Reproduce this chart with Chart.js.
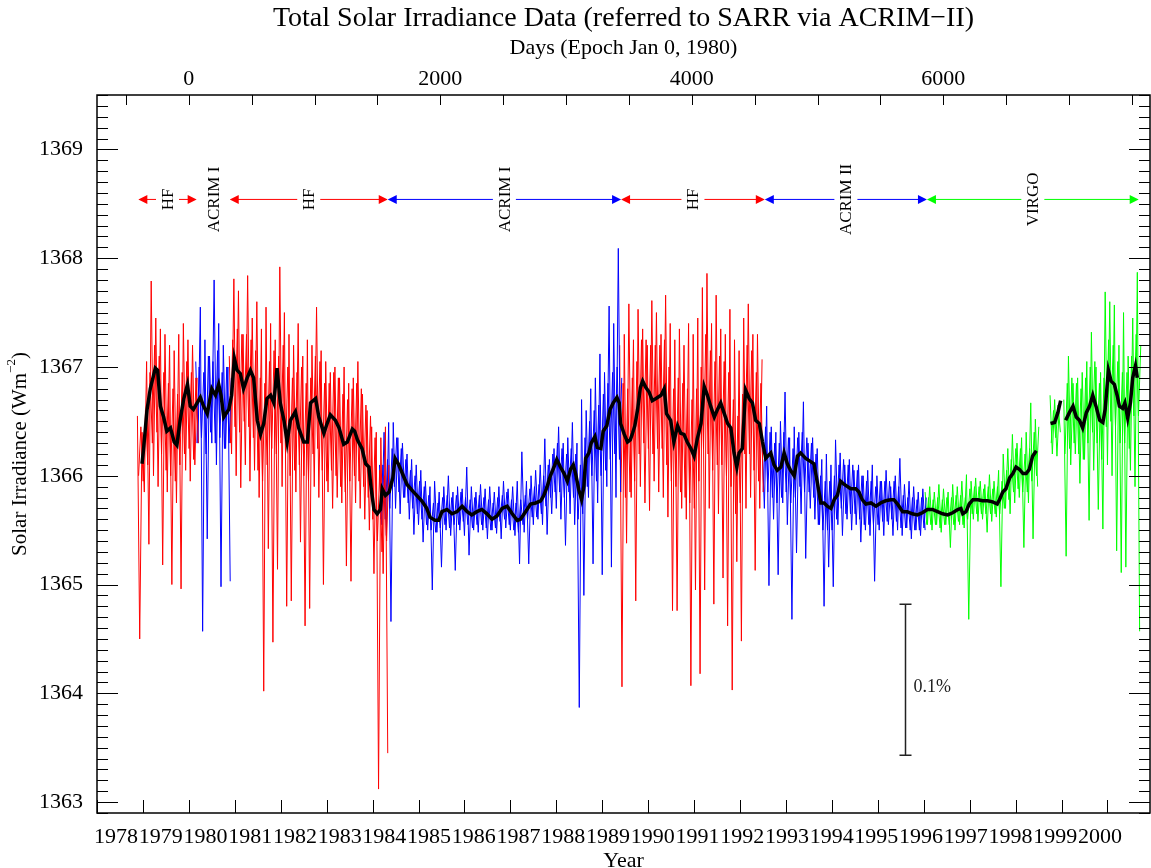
<!DOCTYPE html>
<html>
<head>
<meta charset="utf-8">
<title>Total Solar Irradiance Data</title>
<script src="https://cdn.jsdelivr.net/npm/chart.js@4.4.1/dist/chart.umd.min.js"></script>
<style>
  html, body { margin: 0; padding: 0; background: #fff; }
  #wrap { width: 1151px; height: 868px; }
</style>
</head>
<body>
<div id="wrap"><canvas id="tsiChart" width="1151" height="868"></canvas></div>
<script>
const SERIF = "'Liberation Serif', 'Times New Roman', serif"
const TITLE = 'Total Solar Irradiance Data (referred to SARR via ACRIM\u2212II)'

// daily irradiance, every 0.05 yr as alternating upper / lower excursions
// (*Core arrays: the dense inner band, read half a step later)
const SAMPLE_STEP = 0.05

const hf1Start = 1978.88
const hf1 = [
  1366.55, 1364.50, 1366.40, 1365.85, 1367.05, 1365.37, 1367.79, 1366.00, 1367.45, 1365.90,
  1367.35, 1365.18, 1367.30, 1365.85, 1367.20, 1365.00, 1367.15, 1365.75, 1367.30, 1364.96,
  1367.40, 1366.05, 1367.25, 1365.95, 1367.20, 1366.10, 1366.90
]
const hf1Core = [
  1366.00, 1366.45, 1365.95, 1366.60, 1366.10, 1366.95, 1366.30, 1367.20, 1366.40, 1367.10,
  1366.20, 1366.95, 1366.05, 1366.85, 1366.00, 1366.80, 1365.95, 1366.75, 1366.10, 1366.95,
  1366.20, 1367.05, 1366.25, 1366.95, 1366.15, 1366.90, 1366.30
]

const acrim1aStart = 1980.15
const acrim1a = [
  1367.05, 1366.30, 1367.55, 1364.57, 1367.25, 1365.42, 1367.10, 1366.30, 1367.80, 1366.10,
  1367.40, 1364.98, 1367.20, 1366.25, 1367.00, 1365.03
]
const acrim1aCore = [
  1366.30, 1367.00, 1366.35, 1366.95, 1366.20, 1367.10, 1366.40, 1367.05, 1366.30, 1367.15,
  1366.35, 1366.95, 1366.25, 1367.00, 1366.30, 1366.90
]

const hf2Start = 1980.88
const hf2 = [
  1367.10, 1366.20, 1367.81, 1366.00, 1367.70, 1365.89, 1367.30, 1366.10, 1367.84, 1365.95,
  1367.45, 1366.05, 1367.60, 1365.80, 1367.35, 1364.02, 1367.55, 1365.33, 1367.40, 1364.47,
  1367.25, 1365.14, 1367.92, 1365.90, 1367.50, 1364.80, 1367.30, 1364.85, 1367.20, 1365.85,
  1367.40, 1365.39, 1367.10, 1364.62, 1367.25, 1364.78, 1367.20, 1365.90, 1367.55, 1365.80,
  1367.15, 1365.00, 1367.05, 1365.85, 1366.95, 1365.70, 1367.00, 1365.80, 1366.90, 1365.75,
  1367.00, 1365.17, 1366.85, 1365.03, 1366.90, 1365.75, 1367.05, 1365.70, 1366.75, 1365.60,
  1366.60, 1365.50, 1366.45, 1365.10, 1366.40, 1363.12, 1366.35, 1365.10, 1366.45, 1363.45
]
const hf2Core = [
  1366.30, 1367.25, 1366.45, 1367.35, 1366.40, 1367.30, 1366.50, 1367.30, 1366.45, 1367.25,
  1366.35, 1367.15, 1366.05, 1366.90, 1365.95, 1366.85, 1366.10, 1367.05, 1366.25, 1367.15,
  1366.20, 1367.10, 1366.30, 1367.20, 1366.20, 1367.00, 1366.00, 1366.90, 1366.05, 1366.95,
  1366.10, 1367.00, 1366.00, 1366.85, 1365.95, 1366.90, 1366.20, 1367.10, 1366.25, 1367.05,
  1366.05, 1366.85, 1365.95, 1366.85, 1366.05, 1366.95, 1366.00, 1366.90, 1365.90, 1366.75,
  1365.85, 1366.70, 1365.95, 1366.80, 1366.00, 1366.85, 1365.95, 1366.80, 1365.90, 1366.65,
  1365.80, 1366.55, 1365.60, 1366.35, 1365.40, 1366.05, 1365.30, 1366.00, 1365.40, 1366.10
]

const acrim1bStart = 1984.15
const acrim1b = [
  1366.10, 1365.55, 1366.40, 1365.45, 1366.49, 1364.66, 1366.49, 1365.70, 1366.35, 1365.65,
  1366.30, 1365.80, 1366.20, 1365.60, 1366.15, 1365.46, 1366.10, 1365.55, 1366.05, 1365.39,
  1365.95, 1365.50, 1365.90, 1364.95, 1365.95, 1365.48, 1365.85, 1365.16, 1365.90, 1365.50,
  1366.00, 1365.45, 1365.85, 1365.13, 1365.90, 1365.50, 1365.88, 1365.45, 1366.08, 1365.27,
  1365.90, 1365.50, 1365.85, 1365.48, 1365.92, 1365.50, 1365.88, 1365.42, 1365.90, 1365.50,
  1365.85, 1365.47, 1365.90, 1365.42, 1365.95, 1365.52, 1365.88, 1365.50, 1365.90, 1365.45,
  1365.95, 1365.19, 1366.22, 1365.48, 1365.95, 1365.19, 1366.00, 1365.55, 1366.05, 1365.60,
  1366.10, 1365.55, 1366.34, 1365.46, 1366.15, 1365.65, 1366.25, 1365.70, 1366.45, 1365.60,
  1366.30, 1365.36, 1366.35, 1365.65, 1366.49, 1365.55, 1366.30, 1363.87, 1366.70, 1364.90,
  1366.60, 1365.80, 1366.80, 1365.19, 1366.90, 1365.75, 1367.12, 1365.09, 1366.95, 1365.90,
  1367.56, 1365.16, 1367.40, 1365.80, 1368.09, 1365.85
]
const acrim1bCore = [
  1365.60, 1366.10, 1365.60, 1366.15, 1365.70, 1366.25, 1365.90, 1366.35, 1365.85, 1366.25,
  1365.80, 1366.15, 1365.75, 1366.05, 1365.70, 1366.00, 1365.65, 1365.95, 1365.60, 1365.90,
  1365.55, 1365.82, 1365.50, 1365.75, 1365.48, 1365.75, 1365.52, 1365.80, 1365.55, 1365.82,
  1365.52, 1365.80, 1365.55, 1365.82, 1365.55, 1365.85, 1365.58, 1365.80, 1365.55, 1365.78,
  1365.52, 1365.80, 1365.55, 1365.82, 1365.55, 1365.80, 1365.52, 1365.78, 1365.50, 1365.75,
  1365.52, 1365.80, 1365.58, 1365.82, 1365.60, 1365.85, 1365.55, 1365.78, 1365.50, 1365.75,
  1365.48, 1365.78, 1365.55, 1365.82, 1365.60, 1365.88, 1365.62, 1365.90, 1365.62, 1365.92,
  1365.65, 1366.00, 1365.72, 1366.10, 1365.80, 1366.20, 1365.85, 1366.30, 1365.85, 1366.25,
  1365.80, 1366.20, 1365.85, 1366.25, 1365.80, 1366.20, 1365.60, 1366.10, 1365.65, 1366.35,
  1365.90, 1366.50, 1366.00, 1366.60, 1365.95, 1366.65, 1366.00, 1366.75, 1366.05, 1366.85,
  1366.15, 1366.95, 1366.20, 1367.00, 1366.15, 1366.90
]

const hf3Start = 1989.38
const hf3 = [
  1367.20, 1364.06, 1367.30, 1365.38, 1367.58, 1365.80, 1367.25, 1364.85, 1367.53, 1365.90,
  1367.35, 1365.75, 1367.20, 1365.68, 1367.61, 1365.95, 1367.50, 1365.85, 1367.30, 1365.80,
  1367.66, 1365.62, 1367.40, 1364.76, 1367.25, 1364.76, 1367.35, 1365.70, 1367.20, 1365.60,
  1367.40, 1364.07, 1367.30, 1364.95, 1367.45, 1364.18, 1367.73, 1364.95, 1367.86, 1365.70,
  1367.40, 1364.82, 1367.66, 1365.65, 1367.35, 1365.06, 1367.30, 1364.62, 1367.53, 1364.03,
  1367.25, 1365.21, 1367.15, 1364.48, 1367.45, 1365.70, 1367.58, 1365.80, 1367.30, 1365.13,
  1367.30, 1365.70, 1367.07
]
const hf3Core = [
  1365.85, 1366.85, 1365.80, 1366.80, 1365.85, 1366.90, 1365.95, 1367.05, 1366.20, 1367.25,
  1366.30, 1367.25, 1366.25, 1367.20, 1366.20, 1367.20, 1366.25, 1367.20, 1366.25, 1367.25,
  1366.10, 1367.00, 1365.95, 1366.80, 1365.90, 1366.90, 1365.85, 1366.85, 1365.80, 1366.80,
  1365.75, 1366.70, 1365.70, 1366.80, 1365.95, 1367.00, 1366.25, 1367.30, 1366.20, 1367.15,
  1366.05, 1367.05, 1366.10, 1367.10, 1366.10, 1367.05, 1366.00, 1366.95, 1365.90, 1366.70,
  1365.65, 1366.55, 1365.75, 1366.75, 1366.20, 1367.20, 1366.20, 1367.15, 1366.05, 1366.95,
  1365.95, 1366.85, 1365.85
]

const acrim2Start = 1992.48
const acrim2 = [
  1366.30, 1365.70, 1366.64, 1364.99, 1366.45, 1365.60, 1366.40, 1365.09, 1366.50, 1365.75,
  1366.77, 1365.55, 1366.35, 1364.68, 1366.45, 1365.29, 1366.40, 1365.65, 1366.68, 1365.24,
  1366.30, 1365.70, 1366.35, 1365.60, 1366.25, 1365.55, 1366.15, 1364.80, 1366.20, 1365.16,
  1366.10, 1364.98, 1366.33, 1365.55, 1366.21, 1365.45, 1366.10, 1365.60, 1366.15, 1365.50,
  1366.05, 1365.55, 1366.10, 1365.39, 1366.00, 1365.50, 1366.05, 1365.45, 1366.10, 1365.03,
  1366.00, 1365.50, 1365.95, 1365.45, 1366.05, 1365.55, 1365.90, 1365.45, 1366.00, 1365.50,
  1366.16, 1365.45, 1365.92, 1365.52, 1365.95, 1365.42, 1365.90, 1365.50, 1365.85, 1365.45,
  1365.88, 1365.50
]
const acrim2Core = [
  1365.85, 1366.45, 1365.85, 1366.40, 1365.80, 1366.30, 1365.75, 1366.30, 1365.80, 1366.40,
  1365.85, 1366.35, 1365.75, 1366.25, 1365.80, 1366.35, 1365.90, 1366.40, 1365.85, 1366.35,
  1365.85, 1366.30, 1365.80, 1366.20, 1365.55, 1366.00, 1365.50, 1365.95, 1365.50, 1365.95,
  1365.50, 1366.00, 1365.60, 1366.10, 1365.70, 1366.15, 1365.65, 1366.10, 1365.65, 1366.10,
  1365.65, 1366.05, 1365.60, 1366.00, 1365.55, 1365.95, 1365.55, 1365.95, 1365.55, 1365.90,
  1365.55, 1365.95, 1365.58, 1365.95, 1365.58, 1365.95, 1365.60, 1365.95, 1365.58, 1365.90,
  1365.52, 1365.82, 1365.52, 1365.80, 1365.50, 1365.80, 1365.50, 1365.78, 1365.50, 1365.80,
  1365.52, 1365.80
]

const virgo1Start = 1996.03
const virgo1 = [
  1365.85, 1365.55, 1365.90, 1365.50, 1365.85, 1365.55, 1365.92, 1365.48, 1365.88, 1365.55,
  1365.85, 1365.34, 1365.92, 1365.50, 1365.90, 1365.55, 1365.95, 1365.52, 1366.01, 1364.68,
  1365.95, 1365.60, 1365.98, 1365.58, 1365.95, 1365.60, 1365.92, 1365.48, 1366.01, 1365.58,
  1365.95, 1365.62, 1366.05, 1364.98, 1366.20, 1365.70, 1366.25, 1365.65, 1366.38, 1365.75,
  1366.30, 1365.80, 1366.35, 1365.34, 1366.40, 1365.75, 1366.67, 1365.42, 1366.52, 1365.90
]
const virgo1Core = [
  1365.55, 1365.80, 1365.55, 1365.78, 1365.55, 1365.80, 1365.52, 1365.78, 1365.55, 1365.80,
  1365.55, 1365.80, 1365.55, 1365.82, 1365.58, 1365.82, 1365.55, 1365.80, 1365.60, 1365.88,
  1365.65, 1365.90, 1365.65, 1365.90, 1365.65, 1365.88, 1365.65, 1365.90, 1365.65, 1365.88,
  1365.65, 1365.90, 1365.65, 1365.95, 1365.70, 1366.05, 1365.78, 1366.15, 1365.85, 1366.25,
  1365.88, 1366.25, 1365.85, 1366.20, 1365.85, 1366.25, 1365.95, 1366.40, 1366.00, 1366.45
]

const virgo2Start = 1998.75
const virgo2 = [1366.74, 1366.20, 1366.70, 1366.18, 1366.64]
const virgo2Core = [1366.30, 1366.60, 1366.35, 1366.65, 1366.40]

const virgo3Start = 1999.05
const virgo3 = [
  1366.70, 1365.26, 1367.10, 1366.10, 1366.85, 1366.20, 1366.90, 1365.93, 1366.95, 1366.15,
  1367.05, 1365.59, 1367.32, 1366.05, 1367.00, 1365.69, 1366.95, 1365.51, 1367.69, 1366.10,
  1367.60, 1366.00, 1367.57, 1365.31, 1367.20, 1365.11, 1367.50, 1365.16, 1367.10, 1366.05,
  1367.45, 1365.90, 1367.87, 1364.57
]
const virgo3Core = [
  1366.20, 1366.85, 1366.25, 1366.90, 1366.30, 1366.85, 1366.20, 1366.80, 1366.15, 1366.90,
  1366.30, 1367.00, 1366.40, 1367.05, 1366.30, 1366.85, 1366.15, 1366.90, 1366.45, 1367.25,
  1366.50, 1367.20, 1366.45, 1367.05, 1366.30, 1366.95, 1366.30, 1366.95, 1366.25, 1367.10,
  1366.55, 1367.30, 1366.55, 1367.20
]

// 81-day running mean (null = gap in the record)
const meanYears = [
  1978.98, 1979.01, 1979.09, 1979.16, 1979.27, 1979.32, 1979.38, 1979.45, 1979.52, 1979.60,
  1979.68, 1979.74, 1979.81, 1979.89, 1979.97, 1980.03, 1980.10, 1980.18, 1980.25, 1980.32,
  1980.40, 1980.50, 1980.58, 1980.65, 1980.70, 1980.76, 1980.87, 1980.93, 1980.99, 1981.05,
  1981.12, 1981.19, 1981.27, 1981.34, 1981.41, 1981.49, 1981.56, 1981.63, 1981.70, 1981.78,
  1981.85, 1981.92, 1981.99, 1982.07, 1982.14, 1982.21, 1982.32, 1982.39, 1982.50, 1982.58,
  1982.65, 1982.76, 1982.83, 1982.94, 1983.01, 1983.08, 1983.19, 1983.27, 1983.37, 1983.45,
  1983.56, 1983.61, 1983.67, 1983.77, 1983.85, 1983.92, 1983.97, 1984.03, 1984.10, 1984.17,
  1984.21, 1984.28, 1984.36, 1984.44, 1984.49, 1984.56, 1984.64, 1984.75, 1984.85, 1984.96,
  1985.07, 1985.18, 1985.25, 1985.36, 1985.44, 1985.51, 1985.62, 1985.73, 1985.84, 1985.95,
  1986.06, 1986.16, 1986.27, 1986.38, 1986.49, 1986.60, 1986.71, 1986.82, 1986.93, 1987.04,
  1987.15, 1987.22, 1987.33, 1987.44, 1987.55, 1987.66, 1987.73, 1987.80, 1987.87, 1987.95,
  1988.01, 1988.09, 1988.17, 1988.24, 1988.31, 1988.37, 1988.42, 1988.49, 1988.55, 1988.60,
  1988.64, 1988.71, 1988.76, 1988.84, 1988.89, 1988.97, 1989.02, 1989.10, 1989.17, 1989.24,
  1989.32, 1989.37, 1989.40, 1989.48, 1989.55, 1989.61, 1989.66, 1989.71, 1989.77, 1989.83,
  1989.88, 1989.95, 1990.02, 1990.09, 1990.17, 1990.28, 1990.35, 1990.40, 1990.49, 1990.56,
  1990.64, 1990.71, 1990.78, 1990.85, 1990.93, 1991.00, 1991.07, 1991.15, 1991.22, 1991.29,
  1991.36, 1991.44, 1991.51, 1991.58, 1991.65, 1991.73, 1991.80, 1991.87, 1991.93, 1991.98,
  1992.05, 1992.12, 1992.20, 1992.27, 1992.34, 1992.42, 1992.49, 1992.56, 1992.67, 1992.74,
  1992.81, 1992.89, 1992.96, 1993.03, 1993.10, 1993.18, 1993.25, 1993.32, 1993.43, 1993.54,
  1993.61, 1993.69, 1993.76, 1993.83, 1993.90, 1993.98, 1994.05, 1994.12, 1994.19, 1994.27,
  1994.41, 1994.52, 1994.59, 1994.66, 1994.74, 1994.85, 1994.96, 1995.06, 1995.17, 1995.28,
  1995.35, 1995.43, 1995.54, 1995.64, 1995.75, 1995.86, 1995.97, 1996.08, 1996.19, 1996.30,
  1996.41, 1996.52, 1996.63, 1996.74, 1996.81, 1996.85, 1996.92, 1996.99, 1997.07, 1997.18,
  1997.28, 1997.39, 1997.50, 1997.60, 1997.65, 1997.72, 1997.79, 1997.87, 1997.94, 1998.01,
  1998.08, 1998.16, 1998.23, 1998.30, 1998.37, 1998.45, 1998.60, 1998.76, 1998.85, 1998.92,
  1998.98, 1999.03, 1999.09, 1999.17, 1999.25, 1999.32, 1999.39, 1999.46, 1999.54, 1999.61,
  1999.68, 1999.75, 1999.83, 1999.90, 1999.95, 2000.02, 2000.08, 2000.15, 2000.21, 2000.26,
  2000.33, 2000.38, 2000.44, 2000.50, 2000.55, 2000.61, 2000.65
]
const meanValues = [
  1366.11, 1366.23, 1366.61, 1366.80, 1366.99, 1366.97, 1366.64, 1366.54, 1366.41, 1366.44,
  1366.31, 1366.28, 1366.51, 1366.71, 1366.84, 1366.64, 1366.61, 1366.67, 1366.72, 1366.64,
  1366.57, 1366.80, 1366.74, 1366.84, 1366.74, 1366.54, 1366.61, 1366.74, 1367.08, 1366.97,
  1366.94, 1366.80, 1366.90, 1366.97, 1366.90, 1366.51, 1366.38, 1366.48, 1366.71, 1366.74,
  1366.67, 1366.99, 1366.67, 1366.51, 1366.31, 1366.51, 1366.59, 1366.44, 1366.31, 1366.31,
  1366.67, 1366.71, 1366.54, 1366.39, 1366.48, 1366.56, 1366.51, 1366.44, 1366.29, 1366.31,
  1366.43, 1366.41, 1366.33, 1366.25, 1366.11, 1366.08, 1365.88, 1365.69, 1365.65, 1365.69,
  1365.88, 1365.82, 1365.85, 1365.98, 1366.16, 1366.11, 1366.03, 1365.92, 1365.87, 1365.82,
  1365.77, 1365.70, 1365.62, 1365.59, 1365.59, 1365.67, 1365.69, 1365.65, 1365.67, 1365.72,
  1365.67, 1365.64, 1365.67, 1365.69, 1365.65, 1365.60, 1365.63, 1365.70, 1365.72, 1365.65,
  1365.59, 1365.60, 1365.67, 1365.74, 1365.75, 1365.77, 1365.82, 1365.90, 1366.00, 1366.08,
  1366.15, 1366.08, 1366.02, 1365.95, 1366.06, 1366.10, 1366.02, 1365.87, 1365.78, 1365.90,
  1366.16, 1366.21, 1366.30, 1366.36, 1366.26, 1366.25, 1366.41, 1366.46, 1366.61, 1366.67,
  1366.72, 1366.67, 1366.48, 1366.38, 1366.31, 1366.33, 1366.39, 1366.46, 1366.61, 1366.81,
  1366.87, 1366.81, 1366.77, 1366.69, 1366.71, 1366.74, 1366.80, 1366.57, 1366.51, 1366.31,
  1366.46, 1366.39, 1366.38, 1366.31, 1366.25, 1366.18, 1366.34, 1366.48, 1366.82, 1366.74,
  1366.64, 1366.54, 1366.61, 1366.67, 1366.58, 1366.48, 1366.44, 1366.21, 1366.08, 1366.21,
  1366.25, 1366.79, 1366.71, 1366.67, 1366.51, 1366.48, 1366.31, 1366.16, 1366.21, 1366.10,
  1366.05, 1366.08, 1366.21, 1366.11, 1366.05, 1366.00, 1366.18, 1366.21, 1366.16, 1366.13,
  1366.11, 1365.92, 1365.75, 1365.75, 1365.72, 1365.70, 1365.78, 1365.82, 1365.95, 1365.92,
  1365.88, 1365.88, 1365.85, 1365.78, 1365.74, 1365.75, 1365.72, 1365.75, 1365.77, 1365.78,
  1365.78, 1365.74, 1365.67, 1365.67, 1365.65, 1365.64, 1365.66, 1365.69, 1365.69, 1365.67,
  1365.65, 1365.64, 1365.66, 1365.69, 1365.70, 1365.65, 1365.67, 1365.74, 1365.78, 1365.78,
  1365.77, 1365.77, 1365.76, 1365.74, 1365.78, 1365.85, 1365.88, 1365.98, 1366.02, 1366.08,
  1366.06, 1366.02, 1366.02, 1366.06, 1366.18, 1366.23, null, 1366.48, 1366.49, 1366.58,
  1366.69, null, 1366.51, 1366.58, 1366.64, 1366.54, 1366.51, 1366.44, 1366.58, 1366.64,
  1366.74, 1366.64, 1366.51, 1366.49, 1366.61, 1366.97, 1366.87, 1366.84, 1366.74, 1366.64,
  1366.62, 1366.67, 1366.53, 1366.67, 1366.90, 1367.01, 1366.90
]

// instrument bars along the top
const instNames = ['HF', 'ACRIM I', 'HF', 'ACRIM I', 'HF', 'ACRIM II', 'VIRGO']
const instStart = [1978.90, 1980.17, 1980.89, 1984.33, 1989.41, 1992.54, 1996.07]
const instEnd = [1980.17, 1980.89, 1984.33, 1989.41, 1992.54, 1996.07, 2000.68]
const instColor = ['#ff0000', '#0000ff', '#ff0000', '#0000ff', '#ff0000', '#0000ff', '#00ff00']
const instArrow = [true, false, true, true, true, true, true]
const INST_LEVEL = 1368.54

// 0.1% scale bar
const barYear = 1995.59
const barLow = 1363.43
const barHigh = 1364.82
const barTextLevel = 1364.06

const yTicks = [1363, 1364, 1365, 1366, 1367, 1368, 1369]
const yearTicks = [1978, 1979, 1980, 1981, 1982, 1983, 1984, 1985, 1986, 1987, 1988, 1989,
  1990, 1991, 1992, 1993, 1994, 1995, 1996, 1997, 1998, 1999, 2000]
const dayTicks = [0, 2000, 4000, 6000]
const DAY_MINOR = 500

const X_MIN = 1978
const X_MAX = 2000.926
const DAYS_PER_YEAR = 365.25

function toPoints(start, values) {
  return values.map((v, i) => ({ x: start + i * SAMPLE_STEP, y: v }))
}

function noiseSet(start, values, color) {
  return {
    data: toPoints(start, values),
    borderColor: color,
    borderWidth: 1,
    pointRadius: 0,
    tension: 0,
    order: 1,
    xAxisID: 'x',
    yAxisID: 'y'
  }
}

const RED = '#ff0000', BLUE = '#0000ff', GREEN = '#00ff00'
const half = SAMPLE_STEP / 2

const datasets = [
  noiseSet(hf1Start, hf1, RED),
  noiseSet(hf1Start + half, hf1Core, RED),
  noiseSet(acrim1aStart, acrim1a, BLUE),
  noiseSet(acrim1aStart + half, acrim1aCore, BLUE),
  noiseSet(hf2Start, hf2, RED),
  noiseSet(hf2Start + half, hf2Core, RED),
  noiseSet(acrim1bStart, acrim1b, BLUE),
  noiseSet(acrim1bStart + half, acrim1bCore, BLUE),
  noiseSet(hf3Start, hf3, RED),
  noiseSet(hf3Start + half, hf3Core, RED),
  noiseSet(acrim2Start, acrim2, BLUE),
  noiseSet(acrim2Start + half, acrim2Core, BLUE),
  noiseSet(virgo1Start, virgo1, GREEN),
  noiseSet(virgo1Start + half, virgo1Core, GREEN),
  noiseSet(virgo2Start, virgo2, GREEN),
  noiseSet(virgo2Start + half, virgo2Core, GREEN),
  noiseSet(virgo3Start, virgo3, GREEN),
  noiseSet(virgo3Start + half, virgo3Core, GREEN),
  {
    data: meanYears.map((yr, i) => ({ x: yr, y: meanValues[i] })),
    borderColor: '#000',
    borderWidth: 3.5,
    pointRadius: 0,
    tension: 0,
    spanGaps: false,
    order: -1,
    xAxisID: 'x',
    yAxisID: 'y'
  }
]

const decorPlugin = {
  id: 'decor',
  afterDraw(chart) {
    const { ctx, chartArea: a } = chart
    const xs = chart.scales.x, ys = chart.scales.y, xd = chart.scales.xDays
    ctx.save()

    // main title, centred over the plot area
    ctx.fillStyle = '#000'
    ctx.font = '28px ' + SERIF
    ctx.textAlign = 'center'
    ctx.textBaseline = 'middle'
    ctx.fillText(TITLE, (a.left + a.right) / 2, 19)

    // inward tick marks
    ctx.strokeStyle = '#000'
    ctx.lineWidth = 1
    ctx.beginPath()
    for (let t = Math.ceil(ys.min * 10 - 1e-6); t <= Math.floor(ys.max * 10 + 1e-6); t++) {
      const py = Math.round(ys.getPixelForValue(t / 10)) + 0.5
      const len = t % 10 === 0 ? 21 : 11
      ctx.moveTo(a.left, py); ctx.lineTo(a.left + len, py)
      ctx.moveTo(a.right, py); ctx.lineTo(a.right - len, py)
    }
    yearTicks.forEach(yr => {
      const px = Math.round(xs.getPixelForValue(yr)) + 0.5
      ctx.moveTo(px, a.bottom); ctx.lineTo(px, a.bottom - 13)
    })
    for (let d = Math.ceil(xd.min / DAY_MINOR) * DAY_MINOR; d <= xd.max; d += DAY_MINOR) {
      const px = Math.round(xd.getPixelForValue(d)) + 0.5
      ctx.moveTo(px, a.top); ctx.lineTo(px, a.top + 10)
    }
    ctx.stroke()

    ctx.lineWidth = 1.5
    ctx.strokeRect(a.left, a.top, a.right - a.left, a.bottom - a.top)

    // y title with superscript
    const main = 'Solar Irradiance (Wm', sup = '\u22122', tail = ')'
    ctx.font = '21px ' + SERIF
    const w1 = ctx.measureText(main).width, w3 = ctx.measureText(tail).width
    ctx.font = '13px ' + SERIF
    const w2 = ctx.measureText(sup).width
    ctx.save()
    ctx.translate(20, (a.top + a.bottom) / 2)
    ctx.rotate(-Math.PI / 2)
    let cx = -(w1 + w2 + w3) / 2
    ctx.textBaseline = 'middle'
    ctx.textAlign = 'left'
    ctx.font = '21px ' + SERIF
    ctx.fillText(main, cx, 0)
    cx += w1
    ctx.font = '13px ' + SERIF
    ctx.fillText(sup, cx, -8)
    cx += w2
    ctx.font = '21px ' + SERIF
    ctx.fillText(tail, cx, 0)
    ctx.restore()

    // instrument arrows
    const ya = ys.getPixelForValue(INST_LEVEL)
    instNames.forEach((name, i) => {
      const x0 = xs.getPixelForValue(instStart[i])
      const x1 = xs.getPixelForValue(instEnd[i])
      const xm = (x0 + x1) / 2
      ctx.strokeStyle = instColor[i]
      ctx.fillStyle = instColor[i]
      if (instArrow[i]) {
        ctx.lineWidth = 1
        ctx.beginPath()
        ctx.moveTo(x0 + 8, ya); ctx.lineTo(xm - 11.5, ya)
        ctx.moveTo(xm + 11.5, ya); ctx.lineTo(x1 - 8, ya)
        ctx.stroke()
        ctx.beginPath()
        ctx.moveTo(x0, ya); ctx.lineTo(x0 + 9, ya - 4.5); ctx.lineTo(x0 + 9, ya + 4.5); ctx.closePath()
        ctx.moveTo(x1, ya); ctx.lineTo(x1 - 9, ya - 4.5); ctx.lineTo(x1 - 9, ya + 4.5); ctx.closePath()
        ctx.fill()
      }
      ctx.save()
      ctx.translate(xm, ya)
      ctx.rotate(-Math.PI / 2)
      ctx.fillStyle = '#000'
      ctx.font = '17px ' + SERIF
      ctx.textAlign = 'center'
      ctx.textBaseline = 'middle'
      ctx.fillText(name, 0, 1)
      ctx.restore()
    })

    // 0.1% bar
    const bx = Math.round(xs.getPixelForValue(barYear)) + 0.5
    const by0 = ys.getPixelForValue(barHigh), by1 = ys.getPixelForValue(barLow)
    ctx.strokeStyle = '#222'
    ctx.lineWidth = 1.5
    ctx.beginPath()
    ctx.moveTo(bx, by0); ctx.lineTo(bx, by1)
    ctx.moveTo(bx - 6, by0); ctx.lineTo(bx + 6, by0)
    ctx.moveTo(bx - 6, by1); ctx.lineTo(bx + 6, by1)
    ctx.stroke()
    ctx.fillStyle = '#222'
    ctx.font = '18px ' + SERIF
    ctx.textAlign = 'left'
    ctx.textBaseline = 'middle'
    ctx.fillText('0.1%', bx + 8, ys.getPixelForValue(barTextLevel))

    ctx.restore()
  }
}

const tickFont = { family: SERIF, size: 22 }

new Chart(document.getElementById('tsiChart'), {
  type: 'line',
  data: { datasets },
  options: {
    responsive: false,
    animation: false,
    events: [],
    layout: { padding: { left: 0, right: 1, top: 0, bottom: 0 } },
    plugins: {
      legend: { display: false },
      tooltip: { enabled: false },
      title: { display: false }
    },
    scales: {
      x: { type: 'linear', display: false, min: X_MIN, max: X_MAX },
      y: {
        type: 'linear',
        position: 'left',
        min: 1362.9,
        max: 1369.5,
        afterFit: s => { s.width = 97 },
        afterBuildTicks: s => { s.ticks = yTicks.map(v => ({ value: v })) },
        border: { display: false },
        grid: { display: false },
        ticks: { color: '#000', font: tickFont, padding: 6, callback: v => String(v) }
      },
      xLab: {
        type: 'linear',
        position: 'bottom',
        min: 1977.575,
        max: 2001.118,
        afterFit: s => { s.height = 55 },
        afterBuildTicks: s => { s.ticks = yearTicks.map(v => ({ value: v })) },
        border: { display: false },
        grid: { display: false },
        ticks: { color: '#000', font: tickFont, padding: 3, autoSkip: false, maxRotation: 0, minRotation: 0, callback: v => String(v) },
        title: { display: true, text: 'Year', color: '#000', font: { family: SERIF, size: 22, lineHeight: 1 }, padding: { top: 0, bottom: -4 } }
      },
      xDays: {
        type: 'linear',
        position: 'top',
        min: (X_MIN - 1980) * DAYS_PER_YEAR,
        max: (X_MAX - 1980) * DAYS_PER_YEAR,
        afterFit: s => { s.height = 95 },
        afterBuildTicks: s => { s.ticks = dayTicks.map(v => ({ value: v })) },
        border: { display: false },
        grid: { display: false },
        ticks: { color: '#000', font: tickFont, padding: -5, autoSkip: false, maxRotation: 0, callback: v => String(v) },
        title: { display: true, text: 'Days (Epoch Jan 0, 1980)', color: '#000', font: { family: SERIF, size: 22, lineHeight: 1.2 }, padding: { top: 35, bottom: 0 } }
      }
    }
  },
  plugins: [decorPlugin]
})
</script>
</body>
</html>
